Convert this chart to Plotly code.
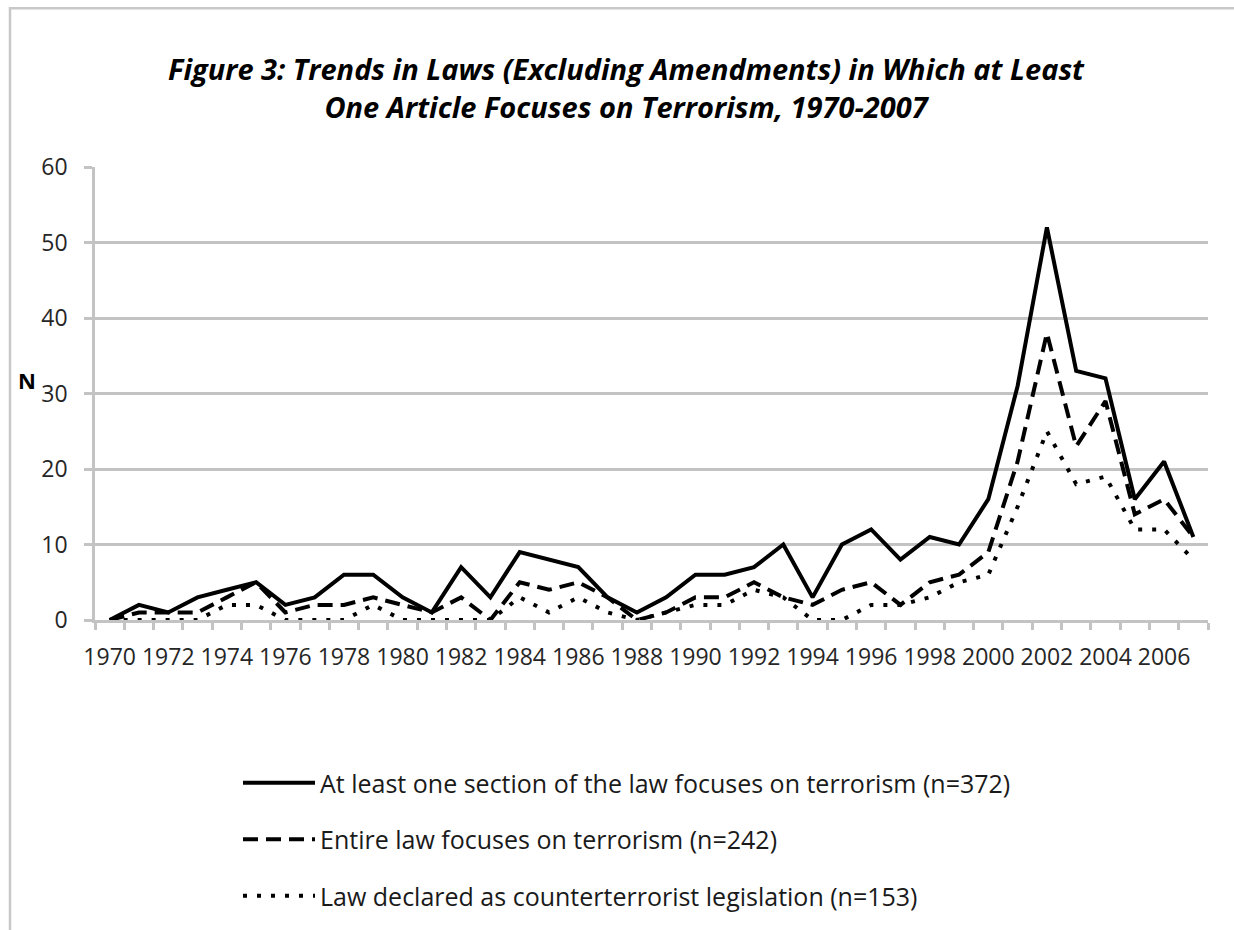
import plotly.graph_objects as go

# ---------------- data ----------------
years = list(range(1970, 2008))
at_least_one_section = [0, 2, 1, 3, 4, 5, 2, 3, 6, 6,
                        3, 1, 7, 3, 9, 8, 7, 3, 1, 3,
                        6, 6, 7, 10, 3, 10, 12, 8, 11, 10,
                        16, 31, 52, 33, 32, 16, 21, 11]
entire_law = [0, 1, 1, 1, 3, 5, 1, 2, 2, 3,
              2, 1, 3, 0, 5, 4, 5, 3, 0, 1,
              3, 3, 5, 3, 2, 4, 5, 2, 5, 6,
              9, 21, 38, 23, 29, 14, 16, 11]
declared_counterterrorist = [0, 0, 0, 0, 2, 2, 0, 0, 0, 2,
                             0, 0, 0, 0, 3, 1, 3, 1, 0, 1,
                             2, 2, 4, 3, 0, 0, 2, 2, 3, 5,
                             6, 15, 25, 18, 19, 12, 12, 8]
series_names = [
    "At least one section of the law focuses on terrorism (n=372)",
    "Entire law focuses on terrorism (n=242)",
    "Law declared as counterterrorist legislation (n=153)",
]
x_tick_values = list(range(1970, 2007, 2))
x_tick_labels = [str(y) for y in x_tick_values]
y_tick_values = [0, 10, 20, 30, 40, 50, 60]
title_text = ("Figure 3: Trends in Laws (Excluding Amendments) in Which at Least"
              "<br>One Article Focuses on Terrorism, 1970-2007")

# ---------------- layout geometry (pixels) ----------------
W, H = 1234, 930
L, R, T, B = 95, 1208, 167, 621
GRID = "#c3c3c3"
TXT = "#262626"
FONT = "Open Sans"


def px2x(px):
    return (px - L) / (R - L)


def px2y(py):
    return (B - py) / (B - T)


fig = go.Figure()
styles = ["solid", "15px,8px", "4px,10px"]
for i, (name, vals) in enumerate(zip(series_names,
                                     [at_least_one_section, entire_law, declared_counterterrorist])):
    fig.add_trace(go.Scatter(
        x=years, y=vals, mode="lines", name=name,
        legendgroup=f"g{i}",
        line=dict(color="black", width=4, dash=styles[i]),
        hoverinfo="x+y",
    ))

fig.update_layout(
    width=W, height=H,
    margin=dict(l=L, r=W - R, t=T, b=H - B, pad=0),
    paper_bgcolor="white", plot_bgcolor="white",
    font=dict(family=FONT, color=TXT),
    title=dict(
        text=title_text, x=px2x(626), xref="paper", xanchor="center",
        y=1 - 80 / H, yref="container", yanchor="top",
        font=dict(family=FONT, size=29, color="black", weight="bold", style="italic"),
    ),
    showlegend=True,
    legend=dict(
        orientation="v", x=px2x(238), xanchor="left",
        y=px2y(760), yanchor="top",
        font=dict(family=FONT, size=25, color="#1a1a1a"),
        tracegroupgap=21, itemwidth=72,
        bgcolor="rgba(0,0,0,0)",
    ),
    xaxis=dict(
        range=[1969.5, 2007.5], tickmode="array",
        tickvals=x_tick_values, ticktext=x_tick_labels,
        ticks="outside", ticklen=15, tickcolor="rgba(0,0,0,0)",
        showline=True, linecolor=GRID, linewidth=2.5,
        showgrid=False, zeroline=False,
        tickfont=dict(family=FONT, size=23, color=TXT),
        minor=dict(ticks="outside", ticklen=7, tickwidth=2.5, tickcolor=GRID,
                   tickmode="linear", tick0=1969.5, dtick=1, showgrid=False),
        fixedrange=True,
    ),
    yaxis=dict(
        range=[0, 60], tickmode="array", tickvals=y_tick_values,
        showgrid=True, gridcolor=GRID, gridwidth=2.5,
        showline=True, linecolor=GRID, linewidth=2.5,
        ticks="outside", ticklen=8, tickwidth=2.5, tickcolor=GRID,
        zeroline=False,
        tickfont=dict(family=FONT, size=23, color=TXT),
        ticklabelstandoff=12,
        fixedrange=True,
    ),
    annotations=[dict(
        text="<b>N</b>", x=px2x(27), y=px2y(380), xref="paper", yref="paper",
        showarrow=False, xanchor="center", yanchor="middle",
        font=dict(family=FONT, size=22, color="black"),
    )],
    shapes=[dict(
        type="path", xref="paper", yref="paper",
        path=f"M {px2x(10)},{px2y(935)} L {px2x(10)},{px2y(8)} L {px2x(1240)},{px2y(8)}",
        line=dict(color="#c8c8c8", width=2.5),
    )],
)

fig.write_html("out.html", config={"displayModeBar": False},
               post_script="document.body.style.margin='0px';")
